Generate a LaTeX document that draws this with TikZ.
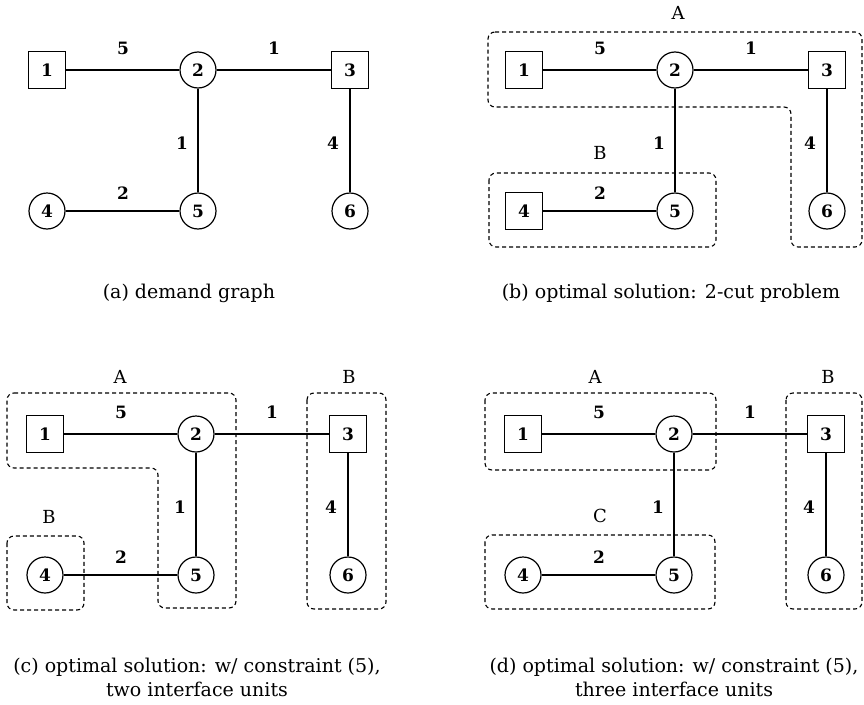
\documentclass[tikz,border=0pt]{standalone}
\usepackage{fontspec}
\setmainfont{DejaVu Serif}
\tikzset{
  sq/.style={draw, line width=1.2pt, minimum size=37pt, inner sep=0pt, font=\fontsize{17}{17}\selectfont\bfseries},
  ci/.style={draw, circle, line width=1.2pt, minimum size=36pt, inner sep=0pt, font=\fontsize{17}{17}\selectfont\bfseries},
  conn/.style={line width=1.2pt},
  wt/.style={font=\fontsize{17}{17}\selectfont\bfseries, inner sep=0pt},
  grp/.style={draw, dash pattern=on 4pt off 3pt, line width=1.1pt, rounded corners=7pt},
  glab/.style={font=\fontsize{18}{18}\selectfont, inner sep=0pt},
  captxt/.style={font=\fontsize{19}{24}\selectfont, align=center, inner sep=0pt},
}
\newcommand\mygraph[2]{%
  \node[sq] (#1n1) at (47,70) {1};
  \node[ci] (#1n2) at (198,70) {2};
  \node[sq] (#1n3) at (350,70) {3};
  \node[#2] (#1n4) at (47,211) {4};
  \node[ci] (#1n5) at (198,211) {5};
  \node[ci] (#1n6) at (350,211) {6};
  \draw[conn] (#1n1) -- (#1n2);
  \draw[conn] (#1n2) -- (#1n3);
  \draw[conn] (#1n2) -- (#1n5);
  \draw[conn] (#1n3) -- (#1n6);
  \draw[conn] (#1n4) -- (#1n5);
  \node[wt] (#1w12) at (123,48) {5};
  \node[wt] (#1w23) at (274,48) {1};
  \node[wt] (#1w25) at (182,143) {1};
  \node[wt] (#1w36) at (333,143) {4};
  \node[wt] (#1w45) at (123,193) {2};
}
\begin{document}
\begin{tikzpicture}[x=1pt,y=-1pt]
\useasboundingbox (0,0) rectangle (864,704);
% (a)
\begin{scope}
  \mygraph{a}{ci}
\end{scope}
\node[captxt] (capa) at (189,293) {(a) demand graph};
% (b)
\begin{scope}[shift={(477,0)}]
  \mygraph{b}{sq}
\end{scope}
\draw[grp] (488,32) -- (862,32) -- (862,247) -- (791,247) -- (791,107) -- (488,107) -- cycle;
\draw[grp] (489,173) rectangle (716,247);
\node[glab] (bA) at (678,13) {A};
\node[glab] (bB) at (600,153) {B};
\node[captxt] (capb) at (671,293) {(b) optimal solution: 2-cut problem};
% (c)
\begin{scope}[shift={(-2,364)}]
  \mygraph{c}{ci}
\end{scope}
\draw[grp] (7,393) -- (236,393) -- (236,608) -- (158,608) -- (158,468) -- (7,468) -- cycle;
\draw[grp] (7,536) rectangle (84,610);
\draw[grp] (307,393) rectangle (386,609);
\node[glab] (cA) at (120,377) {A};
\node[glab] (cB1) at (349,377) {B};
\node[glab] (cB2) at (49,517) {B};
\node[captxt] (capc) at (197,677) {(c) optimal solution: w/ constraint (5),\\two interface units};
% (d)
\begin{scope}[shift={(476,364)}]
  \mygraph{d}{ci}
\end{scope}
\draw[grp] (485,393) rectangle (716,470);
\draw[grp] (485,535) rectangle (715,609);
\draw[grp] (786,393) rectangle (862,609);
\node[glab] (dA) at (595,377) {A};
\node[glab] (dB) at (828,377) {B};
\node[glab] (dC) at (600,516) {C};
\node[captxt] (capd) at (674,677) {(d) optimal solution: w/ constraint (5),\\three interface units};
\end{tikzpicture}
\end{document}
